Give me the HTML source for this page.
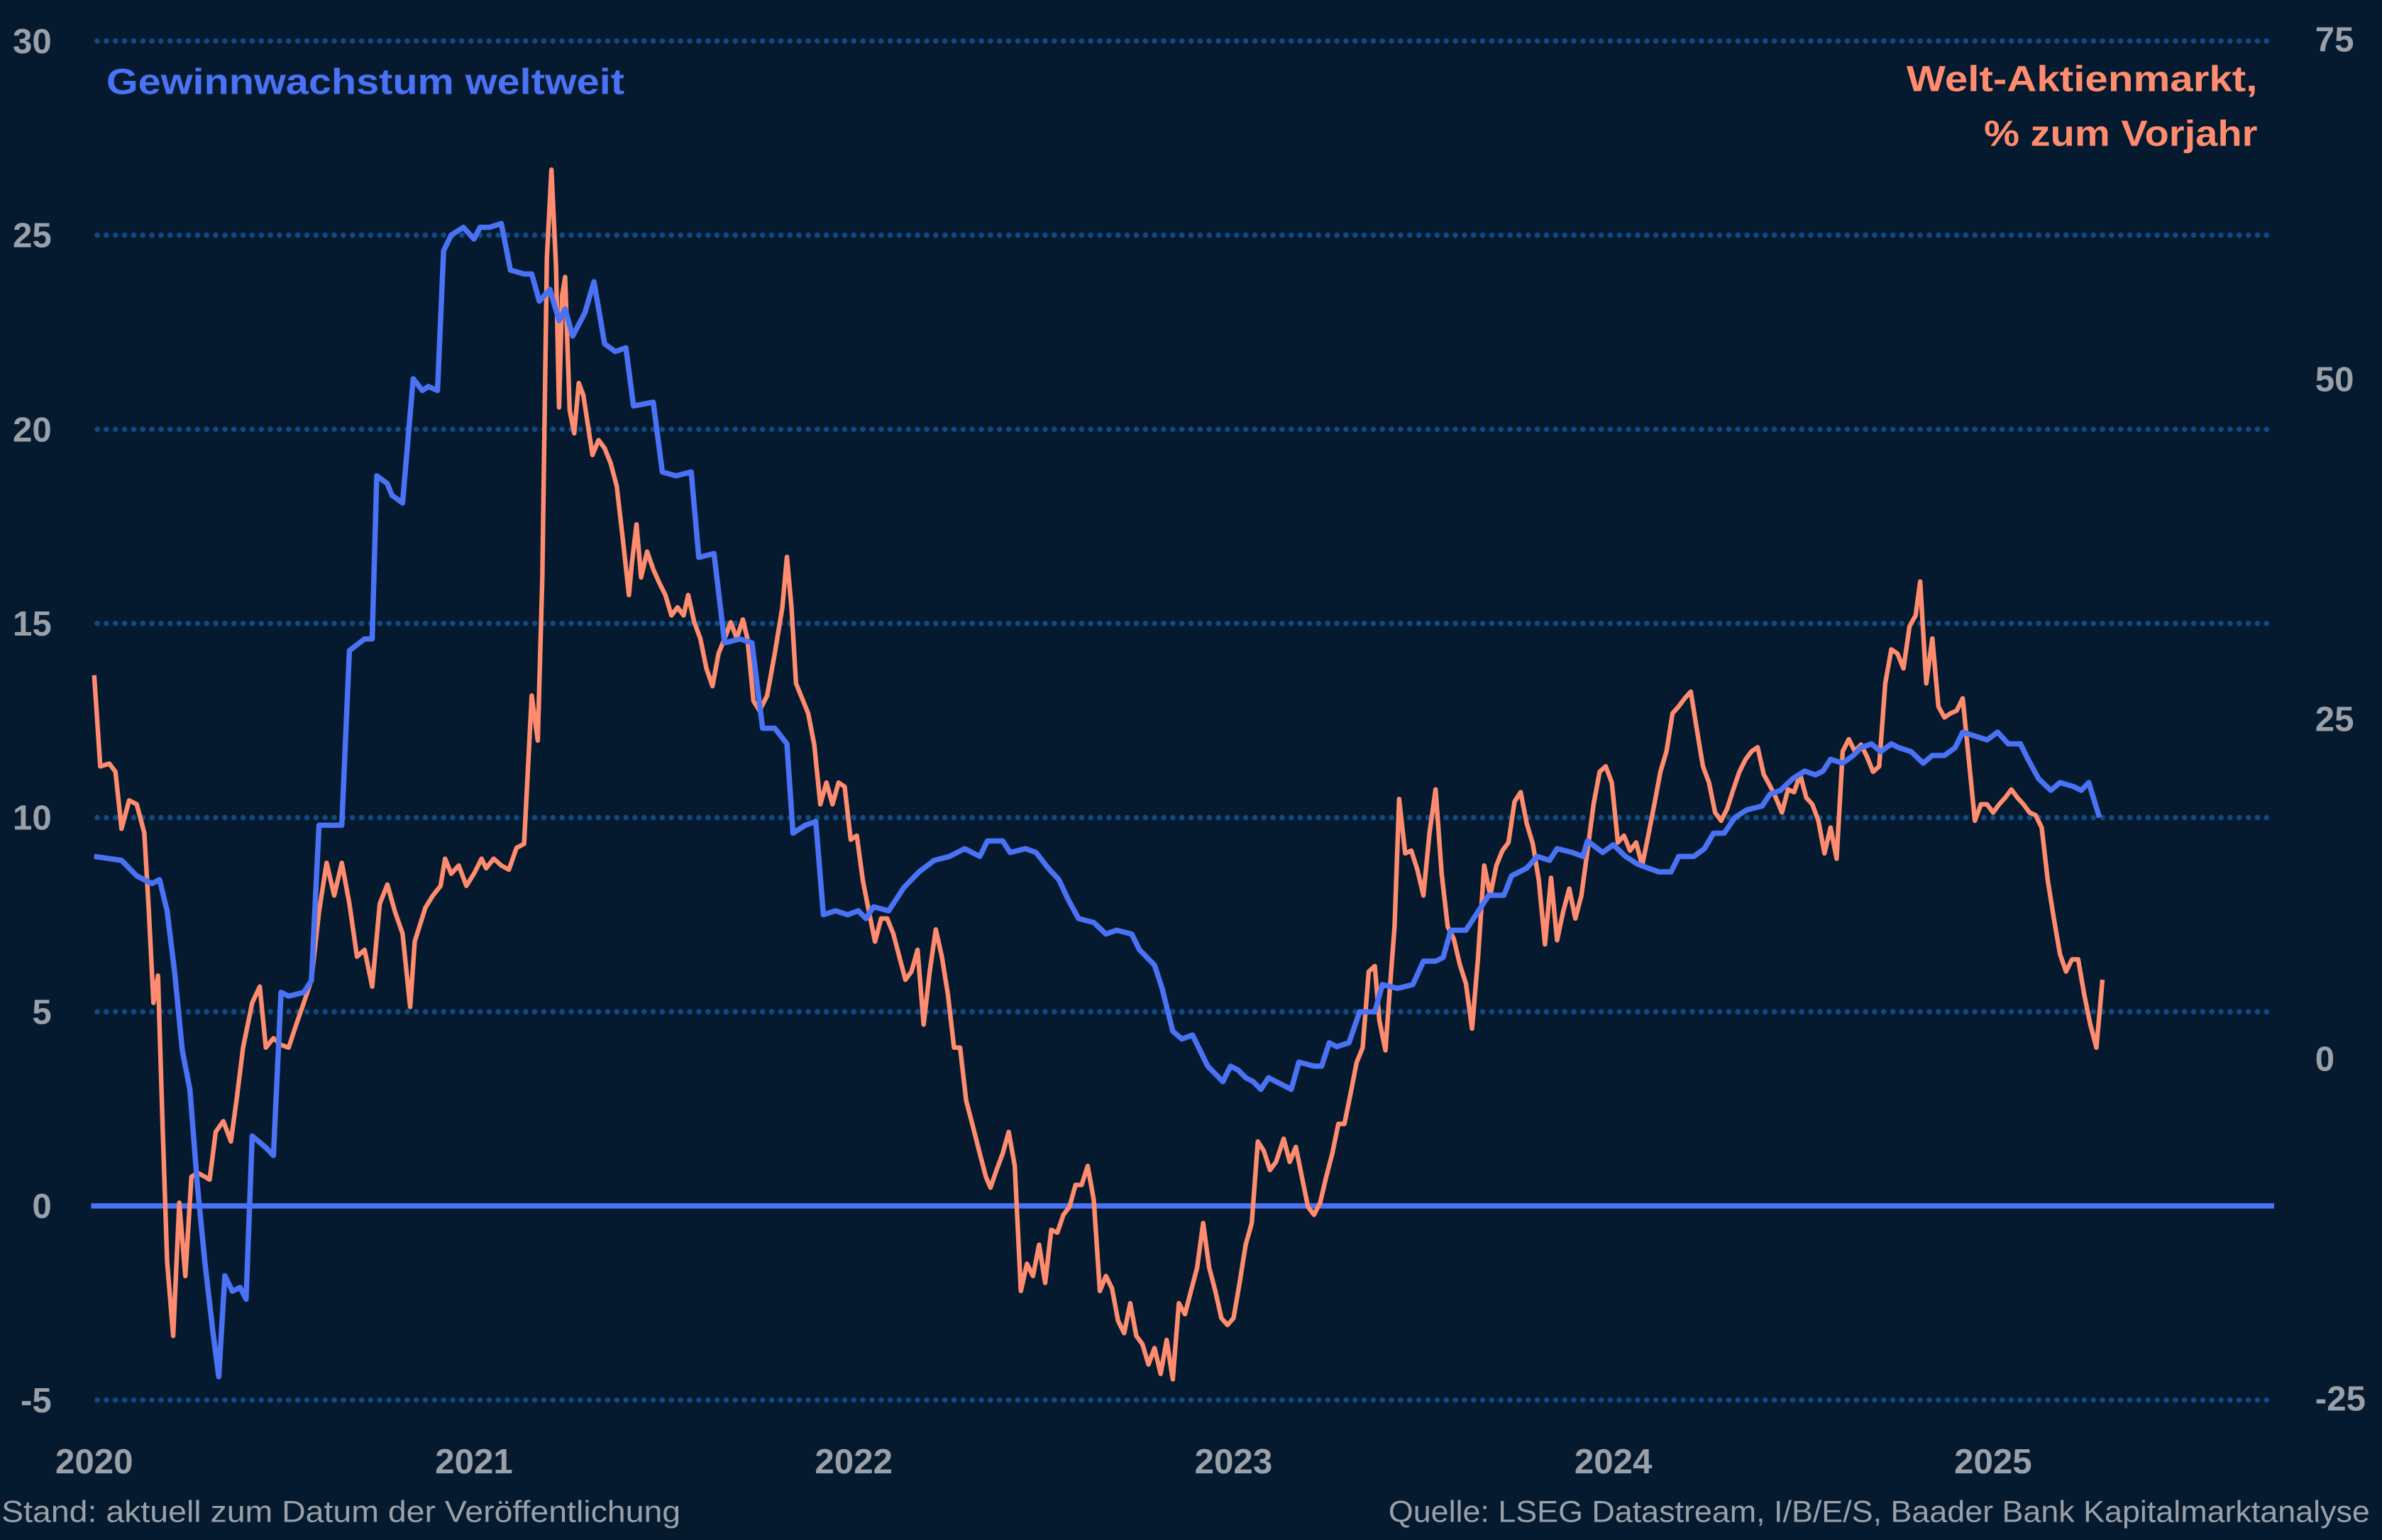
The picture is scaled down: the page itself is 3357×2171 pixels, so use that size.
<!DOCTYPE html>
<html><head><meta charset="utf-8"><style>
html,body{margin:0;padding:0;background:#061a2f;}
svg{display:block;}
</style></head><body>
<svg id="chart" width="3357" height="2171" viewBox="0 0 1568 1014" preserveAspectRatio="none" xmlns="http://www.w3.org/2000/svg" font-family="'Liberation Sans', sans-serif">
<rect x="0" y="0" width="1568" height="1014" fill="#061a2f"/>
<g id="grid"></g>
<g id="ticks"></g>
<g id="series"></g>
<text x="70" y="62" fill="#4a72f5" font-size="24" font-weight="bold" textLength="341" lengthAdjust="spacingAndGlyphs">Gewinnwachstum weltweit</text>
<text x="1255" y="60" fill="#ff8c6e" font-size="24" font-weight="bold" textLength="231" lengthAdjust="spacingAndGlyphs">Welt-Aktienmarkt,</text>
<text x="1306" y="96" fill="#ff8c6e" font-size="24" font-weight="bold" textLength="180" lengthAdjust="spacingAndGlyphs">% zum Vorjahr</text>
<text x="1" y="1002" fill="#9aa0a8" font-size="20" textLength="447" lengthAdjust="spacingAndGlyphs">Stand: aktuell zum Datum der Veröffentlichung</text>
<text x="914" y="1002" fill="#9aa0a8" font-size="20" textLength="646" lengthAdjust="spacingAndGlyphs">Quelle: LSEG Datastream, I/B/E/S, Baader Bank Kapitalmarktanalyse</text>
</svg>
<script>
const leftTicks = [30,25,20,15,10,5,0,-5];
const rightTicks = [75,50,25,0,-25];
const yearTicks = [2020,2021,2022,2023,2024,2025];
const blueDates = [0,.072,.112,.152,.172,.192,.212,.232,.252,.272,.292,.312,.328,.344,.364,.384,.400,.416,.452,.472,.492,.512,.552,.572,.592,.652,.672,.712,.732,.744,.772,.784,.812,.840,.864,.880,.904,.920,.940,.972,1.000,1.016,1.040,1.072,1.096,1.132,1.152,1.172,1.200,1.224,1.240,1.260,1.292,1.316,1.344,1.372,1.400,1.420,1.472,1.496,1.532,1.572,1.592,1.632,1.660,1.700,1.732,1.760,1.792,1.824,1.840,1.872,1.900,1.920,1.952,1.984,2.012,2.032,2.052,2.092,2.132,2.172,2.212,2.252,2.292,2.332,2.352,2.392,2.412,2.452,2.480,2.512,2.540,2.564,2.592,2.632,2.664,2.692,2.732,2.752,2.792,2.812,2.840,2.864,2.892,2.912,2.932,2.952,2.972,2.992,3.012,3.032,3.052,3.072,3.092,3.112,3.132,3.152,3.172,3.212,3.232,3.252,3.272,3.304,3.332,3.372,3.392,3.432,3.472,3.500,3.532,3.552,3.572,3.612,3.632,3.672,3.712,3.732,3.772,3.800,3.832,3.852,3.892,3.920,3.932,3.972,4.000,4.032,4.064,4.092,4.120,4.152,4.172,4.212,4.240,4.264,4.292,4.320,4.352,4.392,4.412,4.440,4.472,4.504,4.532,4.552,4.572,4.604,4.632,4.652,4.680,4.704,4.732,4.752,4.784,4.816,4.840,4.872,4.900,4.920,4.952,4.984,5.012,5.040,5.072,5.092,5.120,5.152,5.176,5.212,5.232,5.252,5.280];
const blueValues = [9.0,8.9,8.5,8.3,8.4,7.6,6.0,4.0,3.0,0.5,-1.5,-3.2,-4.4,-1.8,-2.2,-2.1,-2.4,1.8,1.5,1.3,5.5,5.4,5.5,5.8,9.8,9.8,14.3,14.6,14.6,18.8,18.6,18.3,18.1,21.3,21.0,21.1,21.0,24.6,25.0,25.2,24.9,25.2,25.2,25.3,24.1,24.0,24.0,23.3,23.6,22.8,23.1,22.4,23.0,23.8,22.2,22.0,22.1,20.6,20.7,18.9,18.8,18.9,16.7,16.8,14.5,14.6,14.5,12.3,12.3,11.9,9.6,9.8,9.9,7.5,7.6,7.5,7.6,7.4,7.7,7.6,8.2,8.6,8.9,9.0,9.2,9.0,9.4,9.4,9.1,9.2,9.1,8.7,8.4,7.9,7.4,7.3,7.0,7.1,7.0,6.6,6.2,5.6,4.5,4.3,4.4,4.0,3.6,3.4,3.2,3.6,3.5,3.3,3.2,3.0,3.3,3.2,3.1,3.0,3.7,3.6,3.6,4.2,4.1,4.2,5.0,5.0,5.7,5.6,5.7,6.3,6.3,6.4,7.1,7.1,7.4,8.0,8.0,8.5,8.7,9.0,8.9,9.2,9.1,9.0,9.4,9.1,9.3,9.0,8.8,8.7,8.6,8.6,9.0,9.0,9.2,9.6,9.6,10.0,10.2,10.3,10.6,10.7,11.0,11.2,11.1,11.2,11.5,11.4,11.6,11.8,11.9,11.7,11.9,11.8,11.7,11.4,11.6,11.6,11.8,12.2,12.1,12.0,12.2,11.9,11.9,11.5,11.0,10.7,10.9,10.8,10.7,10.9,10.0];
const orangeDates = [0,.016,.040,.056,.072,.092,.112,.132,.144,.156,.168,.180,.192,.208,.224,.240,.256,.272,.292,.304,.320,.340,.360,.376,.392,.416,.436,.452,.472,.492,.512,.532,.552,.572,.592,.612,.632,.652,.672,.692,.712,.732,.752,.772,.792,.812,.832,.844,.872,.892,.912,.924,.940,.960,.980,1.000,1.020,1.032,1.052,1.072,1.092,1.112,1.132,1.152,1.168,1.180,1.192,1.204,1.216,1.224,1.232,1.240,1.252,1.264,1.276,1.288,1.300,1.312,1.328,1.344,1.360,1.376,1.392,1.408,1.416,1.428,1.440,1.456,1.472,1.488,1.504,1.520,1.536,1.552,1.564,1.580,1.596,1.612,1.628,1.644,1.660,1.676,1.692,1.708,1.720,1.736,1.752,1.772,1.792,1.812,1.824,1.836,1.848,1.864,1.880,1.896,1.912,1.928,1.944,1.960,1.976,1.992,2.008,2.024,2.040,2.056,2.072,2.088,2.104,2.120,2.136,2.152,2.168,2.184,2.200,2.216,2.232,2.248,2.264,2.280,2.296,2.312,2.332,2.348,2.360,2.376,2.392,2.408,2.424,2.440,2.456,2.472,2.488,2.504,2.520,2.536,2.552,2.568,2.584,2.600,2.616,2.632,2.648,2.664,2.680,2.696,2.712,2.728,2.744,2.760,2.776,2.792,2.808,2.824,2.840,2.856,2.872,2.888,2.904,2.920,2.936,2.952,2.968,2.984,3.000,3.016,3.032,3.048,3.064,3.080,3.096,3.112,3.132,3.148,3.164,3.180,3.196,3.212,3.228,3.244,3.260,3.276,3.292,3.308,3.324,3.340,3.356,3.372,3.384,3.400,3.412,3.424,3.436,3.452,3.468,3.484,3.500,3.516,3.532,3.548,3.564,3.580,3.596,3.612,3.628,3.644,3.660,3.676,3.692,3.708,3.724,3.740,3.756,3.772,3.788,3.804,3.820,3.836,3.852,3.868,3.884,3.900,3.916,3.932,3.948,3.964,3.980,3.996,4.012,4.028,4.044,4.060,4.076,4.092,4.108,4.124,4.140,4.156,4.172,4.188,4.204,4.220,4.236,4.252,4.268,4.284,4.300,4.316,4.332,4.348,4.364,4.380,4.396,4.412,4.428,4.444,4.460,4.476,4.492,4.508,4.524,4.540,4.556,4.572,4.588,4.604,4.620,4.636,4.652,4.668,4.684,4.700,4.716,4.732,4.748,4.764,4.780,4.796,4.808,4.824,4.840,4.856,4.872,4.888,4.904,4.920,4.936,4.952,4.968,4.984,5.000,5.016,5.032,5.048,5.064,5.080,5.096,5.112,5.128,5.144,5.160,5.176,5.192,5.208,5.224,5.240,5.256,5.272,5.288];
const orangeValues = [28.2,21.5,21.7,21.1,16.9,19.0,18.7,16.6,10.8,4.1,6.1,-4.8,-14.9,-20.4,-10.6,-16.0,-8.7,-8.4,-8.7,-8.9,-5.4,-4.6,-6.1,-2.8,0.8,4.1,5.3,0.8,1.5,1.0,0.8,2.5,4.1,5.8,10.8,14.4,12.0,14.4,11.4,7.5,8.0,5.3,11.4,12.8,10.8,9.2,3.8,8.6,11.1,12.0,12.7,14.7,13.6,14.2,12.7,13.6,14.7,14.0,14.7,14.2,13.9,15.5,15.8,26.7,23.4,35.4,58.9,65.4,58.3,47.9,56.1,57.5,47.7,46.0,49.7,48.8,46.6,44.4,45.5,44.9,43.8,42.1,38.2,34.1,36.5,39.3,35.4,37.3,36.0,35.0,34.1,32.6,33.2,32.6,34.1,32.1,30.9,28.7,27.4,29.8,30.9,32.1,30.9,32.3,30.9,26.3,25.6,26.7,29.8,33.2,36.9,33.2,27.6,26.5,25.4,23.1,18.7,20.3,18.7,20.3,20.0,16.1,16.4,13.1,10.8,8.6,10.3,10.3,9.2,7.5,5.8,6.4,8.0,2.5,6.4,9.5,7.5,4.7,0.8,0.8,-3.1,-4.8,-7.0,-8.7,-9.5,-8.2,-7.0,-5.4,-7.9,-17.1,-15.1,-16.0,-13.7,-16.5,-12.6,-12.8,-11.5,-10.9,-9.3,-9.3,-7.9,-10.4,-17.1,-16.0,-16.9,-19.3,-20.2,-18.0,-20.4,-21.0,-22.5,-21.3,-23.2,-20.7,-23.6,-18.0,-18.8,-17.1,-15.4,-12.1,-15.4,-17.1,-19.1,-19.6,-19.1,-16.5,-13.7,-12.1,-6.1,-6.8,-8.2,-7.6,-5.9,-7.6,-6.5,-8.7,-10.9,-11.5,-10.6,-8.7,-7.0,-4.8,-4.8,-2.6,-0.3,0.8,6.4,6.8,2.8,0.6,5.3,9.7,19.1,15.1,15.3,13.9,12.0,16.6,19.8,13.6,9.7,8.8,6.9,5.5,2.2,7.5,14.2,12.0,14.2,15.3,15.9,18.9,19.6,17.3,15.8,13.1,8.4,13.3,8.7,10.8,12.5,10.3,12.0,15.3,18.7,21.1,21.5,20.3,15.9,16.4,15.3,15.9,14.2,16.4,18.7,21.1,22.6,25.4,25.9,26.5,27.0,24.2,21.5,20.3,18.1,17.5,18.4,19.8,21.1,22.0,22.6,22.9,20.9,20.1,19.2,18.1,19.8,19.6,20.9,19.2,18.7,17.5,15.1,17.0,14.7,22.6,23.5,22.6,23.1,22.2,21.1,21.5,27.6,30.1,29.8,28.7,31.8,32.6,35.1,27.6,30.9,25.9,25.1,25.4,25.6,26.5,22.0,17.5,18.7,18.7,18.1,18.7,19.2,19.8,19.2,18.7,18.1,17.9,17.0,13.1,10.3,7.7,6.4,7.3,7.3,4.7,2.5,0.8,5.8];

const NS = 'http://www.w3.org/2000/svg';
const X0 = 62, PX_PER_YEAR = 250;
const xScale = d => X0 + d * PX_PER_YEAR;
const yLeft = v => 794 - (v) * (767 / 30);
const yRight = v => 697 - v * (895 / 100);
const grid = document.getElementById('grid');
const ticks = document.getElementById('ticks');
const series = document.getElementById('series');
function mk(tag, attrs, parent) {
  const el = document.createElementNS(NS, tag);
  for (const k in attrs) el.setAttribute(k, attrs[k]);
  parent.appendChild(el);
  return el;
}
leftTicks.forEach(v => {
  const y = yLeft(v);
  if (v !== 0) {
    const g = mk('line', {x1: 64, x2: 1495, y1: y, y2: y, stroke: '#114a82', 'stroke-width': 3.6, 'stroke-linecap': 'round', 'stroke-dasharray': '0 6'}, grid);
    
    
  }
  const t = mk('text', {x: 34, y: y + 8, 'text-anchor': 'end', fill: '#9aa0a8', 'font-size': 23, 'font-weight': 'bold'}, ticks);
  t.textContent = v;
  
  
});
rightTicks.forEach(v => {
  const t = mk('text', {x: 1524, y: yRight(v) + 8, fill: '#9aa0a8', 'font-size': 23, 'font-weight': 'bold'}, ticks);
  t.textContent = v;
  
  
});
yearTicks.forEach(yr => {
  const t = mk('text', {x: xScale(yr - 2020), y: 970, 'text-anchor': 'middle', fill: '#9aa0a8', 'font-size': 23, 'font-weight': 'bold'}, ticks);
  t.textContent = yr;
  
  
});
const zero = mk('line', {x1: 60, x2: 1497, y1: yLeft(0), y2: yLeft(0), stroke: '#4a72f5', 'stroke-width': 3.5}, series);


const op = mk('path', {d: orangeDates.map((d, i) => (i ? 'L' : 'M') + xScale(d).toFixed(1) + ' ' + yRight(orangeValues[i]).toFixed(1)).join(''), fill: 'none', stroke: '#ff8c6e', 'stroke-width': 3, 'stroke-linejoin': 'round'}, series);


const bp = mk('path', {d: blueDates.map((d, i) => (i ? 'L' : 'M') + xScale(d).toFixed(1) + ' ' + yLeft(blueValues[i]).toFixed(1)).join(''), fill: 'none', stroke: '#4a72f5', 'stroke-width': 3.5, 'stroke-linejoin': 'round'}, series);


</script>
</body></html>
